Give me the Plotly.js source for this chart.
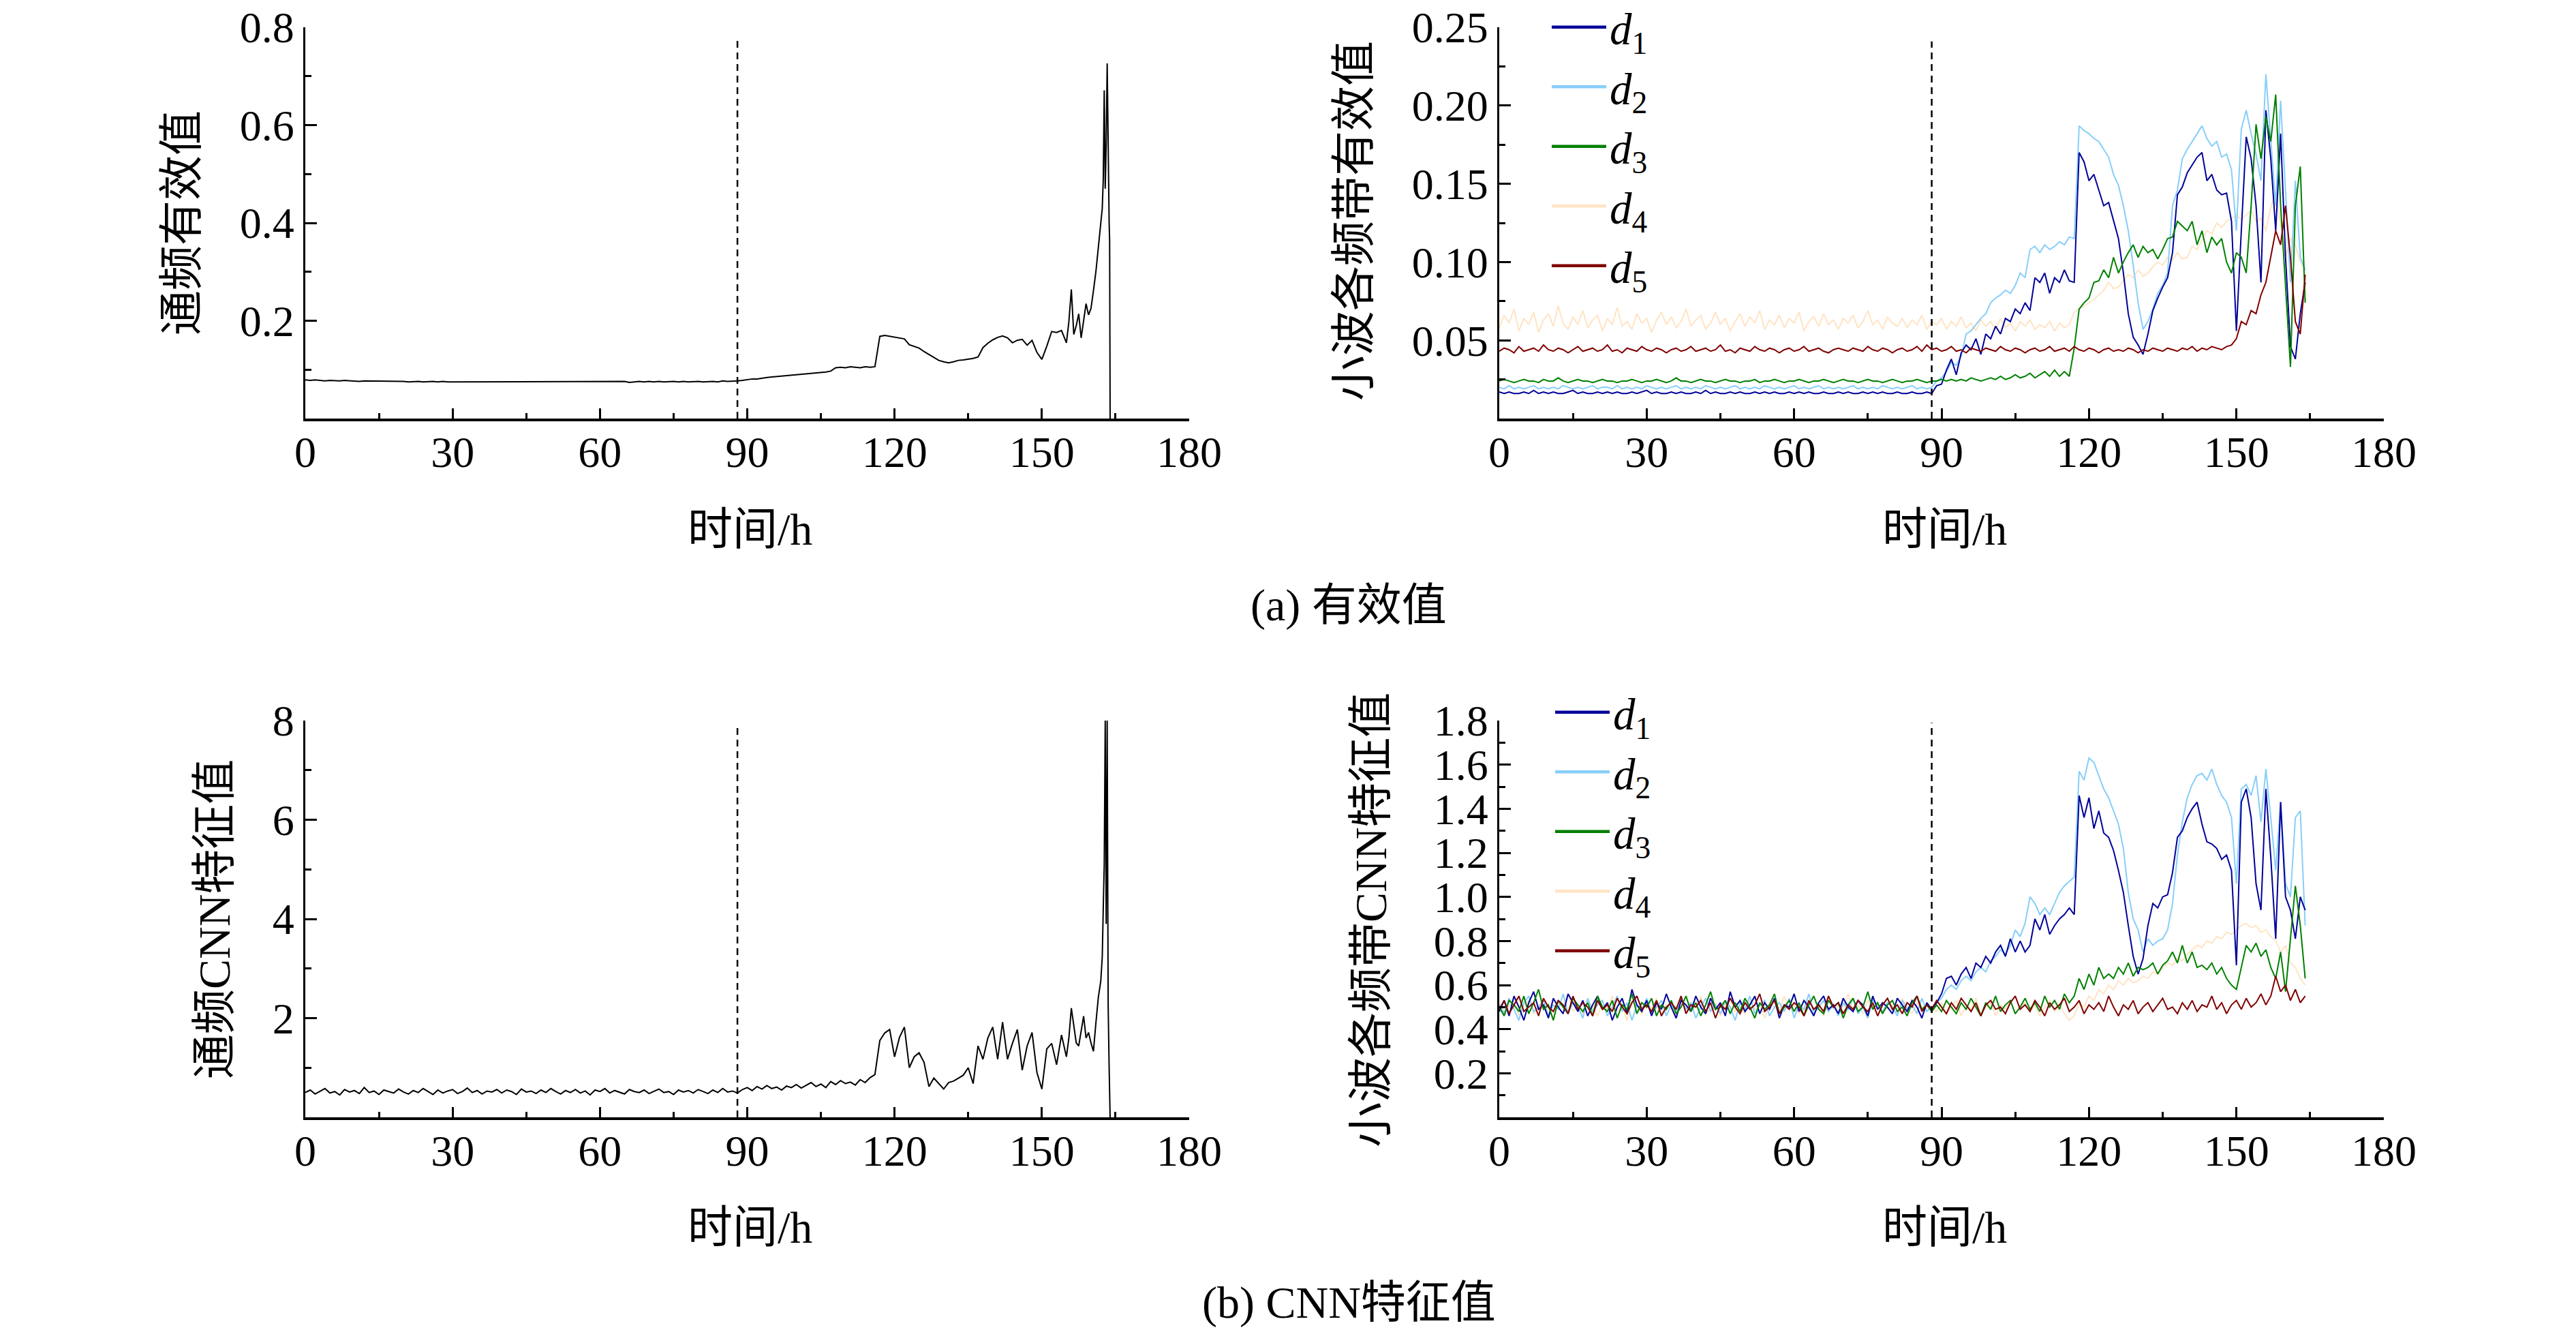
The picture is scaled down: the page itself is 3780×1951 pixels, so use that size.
<!DOCTYPE html>
<html>
<head>
<meta charset="utf-8">
<script src="https://cdn.plot.ly/plotly-3.0.1.min.js"></script>
<style>
html,body{margin:0;padding:0;background:#ffffff;}
#chart{width:3780px;height:1951px;}
</style>
</head>
<body>
<div id="chart"></div>
<script>
// ---------------- DATA ----------------
const HOURS = [
0,1,2,3,4,5,6,7,8,9,10,11,12,13,14,15,16,17,18,19,
20,21,22,23,24,25,26,27,28,29,30,31,32,33,34,35,36,37,38,39,
40,41,42,43,44,45,46,47,48,49,50,51,52,53,54,55,56,57,58,59,
60,61,62,63,64,65,66,67,68,69,70,71,72,73,74,75,76,77,78,79,
80,81,82,83,84,85,86,87,88,89,90,91,92,93,94,95,96,97,98,99,
100,101,102,103,104,105,106,107,108,109,110,111,112,113,114,115,116,117,118,119,
120,121,122,123,124,125,126,127,128,129,130,131,132,133,134,135,136,137,138,139,
140,141,142,143,144,145,146,147,148,149,150,151,152,153,154,155,156,157,158,159,
160,161,162,163,164];

// extra fine time points at the end of the broadband (通频) records
const T_END = [155.5,156,156.5,157,157.5,158,158.5,159,159.5,160,160.5,161,161.5,162,162.3,162.5,162.7,162.9,163.1,163.3,163.5,163.7,163.8,163.9];

// 通频有效值 (hours 0..155, then T_END)
const RMS_ALL = [
0.079,0.078,0.079,0.078,0.077,0.078,0.077,0.077,0.078,0.077,
0.077,0.076,0.077,0.077,0.076,0.077,0.076,0.076,0.077,0.076,
0.076,0.075,0.076,0.076,0.075,0.076,0.076,0.075,0.076,0.075,
0.075,0.076,0.075,0.075,0.076,0.075,0.075,0.076,0.075,0.076,
0.075,0.075,0.076,0.075,0.076,0.076,0.075,0.076,0.075,0.075,
0.076,0.075,0.076,0.075,0.075,0.076,0.075,0.076,0.076,0.075,
0.076,0.075,0.075,0.076,0.075,0.076,0.074,0.075,0.076,0.075,
0.076,0.075,0.076,0.075,0.076,0.076,0.075,0.076,0.075,0.076,
0.076,0.075,0.076,0.076,0.075,0.077,0.076,0.076,0.077,
0.078,0.080,0.081,0.081,0.083,0.084,0.085,0.086,0.087,0.088,
0.088,0.090,0.090,0.092,0.092,0.093,0.094,0.095,0.097,0.104,
0.105,0.104,0.106,0.105,0.104,0.106,0.105,0.106,0.168,0.170,
0.168,0.166,0.165,0.163,0.151,0.147,0.144,0.137,0.131,0.124,
0.119,0.116,0.114,0.116,0.119,0.120,0.121,0.123,0.126,0.145,
0.154,0.161,0.166,0.169,0.165,0.155,0.160,0.162,0.150,0.160,
0.135,0.121,0.148,0.178,0.176,0.180,0.155,
0.198,0.264,0.172,0.190,0.214,0.165,0.200,0.235,0.212,0.225,0.261,0.300,
0.350,0.400,0.430,0.488,0.671,0.470,0.560,0.726,0.515,0.400,0.363,0.000];

// 通频CNN特征值 (hours 0..155, then T_END)
const CNN_ALL = [
0.50,0.55,0.47,0.53,0.58,0.49,0.52,0.45,0.56,0.51,
0.54,0.48,0.60,0.50,0.53,0.46,0.55,0.52,0.49,0.57,
0.51,0.47,0.54,0.50,0.58,0.52,0.46,0.55,0.49,0.53,
0.56,0.48,0.52,0.59,0.50,0.54,0.47,0.53,0.51,0.56,
0.49,0.55,0.52,0.46,0.57,0.51,0.53,0.48,0.55,0.50,
0.58,0.52,0.47,0.54,0.50,0.56,0.49,0.53,0.45,0.55,
0.52,0.58,0.49,0.54,0.51,0.47,0.56,0.52,0.50,0.55,
0.48,0.53,0.57,0.50,0.52,0.46,0.55,0.51,0.54,0.49,
0.56,0.52,0.48,0.55,0.50,0.58,0.51,0.53,0.49,
0.56,0.60,0.54,0.62,0.57,0.64,0.58,0.61,0.55,0.63,
0.60,0.66,0.59,0.64,0.70,0.62,0.67,0.60,0.72,0.66,
0.74,0.68,0.71,0.65,0.76,0.70,0.80,0.86,
1.55,1.70,1.77,1.22,1.61,1.82,1.00,1.22,1.30,1.11,
0.62,0.79,0.68,0.57,0.70,0.73,0.79,0.85,1.00,0.68,
1.44,1.17,1.60,1.82,1.17,1.92,1.17,1.49,1.77,0.95,
1.44,1.71,0.90,0.57,1.38,1.49,1.06,1.66,1.22,
1.60,2.20,1.82,1.50,1.44,1.75,2.04,1.60,1.71,1.50,1.33,1.90,
2.42,2.75,3.24,4.20,5.09,8.00,3.90,8.00,2.26,1.00,0.30,0.00];

// 小波各频带有效值 d1..d5 (hours 0..164)
const RMS_D1 = [
0.017,0.016,0.017,0.016,0.016,0.017,0.016,0.018,0.016,0.017,
0.016,0.017,0.016,0.016,0.017,0.018,0.016,0.017,0.016,0.016,
0.017,0.016,0.017,0.016,0.017,0.016,0.016,0.017,0.016,0.017,
0.018,0.016,0.017,0.016,0.016,0.017,0.016,0.017,0.016,0.016,
0.017,0.016,0.018,0.016,0.017,0.016,0.016,0.017,0.016,0.017,
0.016,0.016,0.017,0.016,0.017,0.016,0.017,0.016,0.016,0.017,
0.016,0.017,0.016,0.017,0.016,0.016,0.017,0.016,0.016,0.017,
0.016,0.017,0.016,0.016,0.017,0.016,0.017,0.016,0.017,0.016,
0.016,0.017,0.016,0.016,0.017,0.016,0.016,0.017,0.016,
0.021,0.022,0.031,0.038,0.028,0.042,0.047,0.044,0.051,0.041,
0.054,0.051,0.059,0.054,0.064,0.062,0.070,0.067,0.074,0.069,
0.090,0.087,0.093,0.080,0.090,0.087,0.095,0.088,0.087,0.170,
0.164,0.152,0.156,0.146,0.136,0.138,0.126,0.115,0.093,0.067,
0.052,0.047,0.041,0.054,0.069,0.077,0.084,0.090,0.106,0.143,
0.148,0.157,0.162,0.167,0.170,0.152,0.156,0.146,0.143,0.144,
0.126,0.056,0.120,0.180,0.166,0.136,0.087,0.197,0.166,0.120,
0.182,0.103,0.046,0.038,0.067,0.087];
const RMS_D2 = [
0.020,0.019,0.021,0.019,0.020,0.019,0.020,0.021,0.019,0.020,
0.019,0.020,0.019,0.021,0.020,0.019,0.020,0.019,0.020,0.021,
0.019,0.020,0.020,0.019,0.021,0.019,0.020,0.019,0.020,0.019,
0.021,0.020,0.019,0.020,0.019,0.020,0.021,0.019,0.020,0.019,
0.020,0.019,0.021,0.020,0.019,0.020,0.019,0.020,0.021,0.019,
0.020,0.019,0.020,0.019,0.021,0.020,0.019,0.020,0.019,0.020,
0.021,0.019,0.020,0.019,0.020,0.021,0.019,0.020,0.019,0.020,
0.019,0.020,0.021,0.019,0.020,0.019,0.020,0.019,0.021,0.020,
0.019,0.020,0.019,0.020,0.021,0.019,0.020,0.019,0.020,
0.024,0.026,0.030,0.036,0.034,0.040,0.054,0.056,0.060,0.064,
0.067,0.074,0.077,0.079,0.082,0.080,0.085,0.093,0.090,0.108,
0.110,0.106,0.111,0.108,0.110,0.113,0.111,0.116,0.115,0.187,
0.184,0.182,0.179,0.177,0.172,0.167,0.156,0.149,0.136,0.120,
0.098,0.074,0.057,0.062,0.070,0.080,0.085,0.093,0.136,0.146,
0.166,0.172,0.177,0.182,0.187,0.179,0.174,0.177,0.167,0.169,
0.159,0.120,0.185,0.197,0.182,0.169,0.152,0.220,0.177,0.136,
0.203,0.144,0.087,0.152,0.103,0.095];
const RMS_D3 = [
0.024,0.025,0.024,0.023,0.024,0.025,0.024,0.024,0.023,0.025,
0.024,0.024,0.026,0.024,0.023,0.024,0.025,0.024,0.024,0.023,
0.024,0.025,0.024,0.024,0.023,0.024,0.024,0.025,0.024,0.023,
0.024,0.024,0.025,0.024,0.023,0.024,0.026,0.024,0.024,0.023,
0.024,0.025,0.024,0.024,0.023,0.024,0.025,0.024,0.024,0.023,
0.024,0.024,0.025,0.023,0.024,0.024,0.025,0.024,0.023,0.024,
0.024,0.025,0.024,0.023,0.024,0.024,0.025,0.024,0.023,0.024,
0.025,0.024,0.024,0.023,0.024,0.025,0.024,0.024,0.023,0.024,
0.025,0.024,0.023,0.024,0.024,0.025,0.024,0.023,0.024,
0.024,0.025,0.024,0.025,0.024,0.025,0.024,0.026,0.025,0.024,
0.025,0.026,0.025,0.027,0.025,0.026,0.028,0.026,0.027,0.029,
0.026,0.028,0.030,0.027,0.031,0.027,0.030,0.027,0.045,0.070,
0.074,0.077,0.087,0.088,0.095,0.090,0.103,0.093,0.100,0.106,
0.111,0.103,0.110,0.106,0.108,0.102,0.108,0.115,0.116,0.126,
0.123,0.120,0.126,0.111,0.120,0.106,0.116,0.111,0.115,0.100,
0.093,0.106,0.103,0.093,0.136,0.188,0.166,0.193,0.177,0.207,
0.136,0.087,0.033,0.136,0.161,0.074];
const RMS_D4 = [
0.058,0.066,0.061,0.070,0.056,0.064,0.060,0.068,0.055,0.063,
0.067,0.059,0.072,0.061,0.057,0.065,0.060,0.069,0.058,0.063,
0.066,0.056,0.064,0.060,0.071,0.059,0.062,0.057,0.067,0.061,
0.064,0.055,0.063,0.068,0.060,0.065,0.058,0.062,0.070,0.059,
0.063,0.066,0.057,0.061,0.068,0.060,0.064,0.056,0.062,0.067,
0.059,0.065,0.061,0.069,0.057,0.063,0.060,0.066,0.058,0.064,
0.061,0.068,0.056,0.062,0.065,0.059,0.067,0.060,0.063,0.057,
0.064,0.061,0.066,0.058,0.062,0.069,0.060,0.063,0.057,0.065,
0.061,0.059,0.064,0.058,0.063,0.060,0.066,0.057,0.062,
0.060,0.064,0.057,0.062,0.059,0.065,0.058,0.061,0.056,0.063,
0.059,0.062,0.057,0.064,0.058,0.061,0.056,0.062,0.059,0.063,
0.057,0.060,0.058,0.062,0.056,0.061,0.058,0.060,0.068,0.070,
0.072,0.074,0.076,0.079,0.082,0.087,0.083,0.084,0.088,0.092,
0.090,0.095,0.091,0.093,0.097,0.100,0.098,0.103,0.101,0.106,
0.102,0.103,0.110,0.108,0.114,0.120,0.118,0.125,0.122,0.126,
0.128,0.130,0.127,0.130,0.133,0.126,0.128,0.120,0.135,0.144,
0.125,0.103,0.115,0.111,0.100,0.095];
const RMS_D5 = [
0.043,0.045,0.044,0.042,0.046,0.043,0.044,0.045,0.043,0.047,
0.044,0.043,0.045,0.044,0.042,0.044,0.046,0.043,0.044,0.045,
0.043,0.044,0.047,0.043,0.044,0.042,0.045,0.044,0.043,0.046,
0.044,0.043,0.045,0.044,0.042,0.044,0.045,0.043,0.044,0.046,
0.043,0.044,0.045,0.043,0.044,0.047,0.043,0.044,0.042,0.045,
0.044,0.043,0.046,0.044,0.043,0.045,0.044,0.042,0.044,0.045,
0.043,0.044,0.046,0.043,0.044,0.045,0.043,0.042,0.044,0.045,
0.044,0.043,0.045,0.044,0.043,0.046,0.044,0.043,0.045,0.044,
0.042,0.044,0.045,0.043,0.044,0.046,0.043,0.047,0.044,
0.045,0.043,0.044,0.046,0.043,0.044,0.042,0.045,0.044,0.043,
0.045,0.044,0.043,0.046,0.044,0.043,0.045,0.044,0.042,0.044,
0.045,0.043,0.044,0.046,0.043,0.044,0.045,0.043,0.046,0.044,
0.043,0.045,0.044,0.042,0.044,0.045,0.043,0.044,0.043,0.045,
0.044,0.042,0.044,0.043,0.045,0.044,0.043,0.045,0.044,0.043,
0.045,0.044,0.046,0.043,0.045,0.044,0.046,0.045,0.044,0.046,
0.047,0.051,0.062,0.060,0.069,0.067,0.079,0.087,0.103,0.120,
0.111,0.136,0.103,0.062,0.054,0.092];

// 小波各频带CNN特征值 d1..d5 (hours 0..164)
const CNN_D1 = [
0.48,0.53,0.46,0.55,0.50,0.44,0.52,0.57,0.49,0.51,
0.45,0.54,0.50,0.47,0.56,0.52,0.48,0.53,0.46,0.51,
0.55,0.49,0.52,0.44,0.50,0.54,0.47,0.58,0.51,0.48,
0.53,0.46,0.52,0.49,0.56,0.50,0.45,0.53,0.51,0.48,
0.55,0.50,0.47,0.54,0.49,0.52,0.46,0.57,0.50,0.53,
0.48,0.51,0.55,0.47,0.52,0.49,0.54,0.45,0.51,0.50,
0.56,0.48,0.53,0.50,0.46,0.52,0.55,0.49,0.51,0.47,
0.54,0.50,0.48,0.53,0.51,0.46,0.55,0.49,0.52,0.50,
0.47,0.54,0.51,0.48,0.53,0.50,0.45,0.52,0.49,
0.52,0.56,0.63,0.64,0.60,0.65,0.68,0.63,0.70,0.68,
0.73,0.70,0.75,0.78,0.73,0.81,0.75,0.80,0.75,0.78,
0.90,0.85,0.92,0.83,0.87,0.90,0.92,0.95,0.92,1.46,
1.36,1.45,1.31,1.39,1.29,1.27,1.21,1.12,1.02,0.87,
0.73,0.65,0.72,0.87,0.97,0.95,1.00,1.01,1.11,1.27,
1.30,1.36,1.40,1.43,1.33,1.25,1.24,1.22,1.17,1.19,
1.12,0.69,1.43,1.49,1.36,1.06,0.94,1.49,1.18,0.81,
1.43,1.00,0.94,0.81,1.00,0.94];
const CNN_D2 = [
0.51,0.47,0.54,0.49,0.44,0.52,0.55,0.48,0.50,0.53,
0.46,0.51,0.49,0.56,0.47,0.52,0.50,0.45,0.54,0.48,
0.51,0.53,0.46,0.50,0.55,0.48,0.52,0.44,0.51,0.49,
0.54,0.47,0.50,0.53,0.46,0.51,0.48,0.55,0.49,0.52,
0.45,0.50,0.54,0.48,0.51,0.47,0.53,0.50,0.44,0.52,
0.49,0.55,0.47,0.51,0.53,0.46,0.50,0.52,0.48,0.54,
0.45,0.51,0.49,0.56,0.47,0.50,0.53,0.48,0.51,0.46,
0.52,0.49,0.54,0.47,0.50,0.45,0.53,0.51,0.48,0.52,
0.50,0.46,0.53,0.49,0.51,0.47,0.54,0.48,0.50,
0.52,0.54,0.58,0.60,0.58,0.62,0.64,0.62,0.66,0.68,
0.66,0.71,0.73,0.76,0.74,0.78,0.85,0.82,0.88,1.00,
0.97,0.92,0.95,0.92,0.97,1.02,1.05,1.07,1.09,1.57,
1.53,1.63,1.61,1.55,1.49,1.45,1.39,1.33,1.22,1.02,
0.90,0.85,0.75,0.81,0.78,0.80,0.81,0.85,0.97,1.19,
1.34,1.45,1.51,1.55,1.56,1.53,1.58,1.51,1.46,1.43,
1.36,1.06,1.49,1.51,1.46,1.55,1.34,1.58,1.36,1.12,
1.43,1.06,1.00,1.36,1.39,0.87];
const CNN_D3 = [
0.50,0.46,0.53,0.51,0.48,0.55,0.47,0.52,0.58,0.49,
0.51,0.44,0.53,0.50,0.47,0.54,0.51,0.48,0.52,0.46,
0.55,0.50,0.48,0.53,0.45,0.51,0.49,0.56,0.47,0.52,
0.50,0.54,0.46,0.51,0.49,0.53,0.47,0.50,0.55,0.48,
0.52,0.46,0.51,0.57,0.49,0.50,0.53,0.47,0.52,0.48,
0.54,0.50,0.45,0.52,0.49,0.51,0.56,0.47,0.50,0.53,
0.48,0.52,0.46,0.51,0.55,0.49,0.47,0.53,0.50,0.52,
0.45,0.51,0.54,0.48,0.50,0.57,0.49,0.52,0.47,0.51,
0.53,0.48,0.50,0.46,0.52,0.55,0.49,0.51,0.48,
0.51,0.48,0.53,0.50,0.47,0.52,0.49,0.54,0.50,0.46,
0.52,0.49,0.55,0.48,0.51,0.53,0.47,0.50,0.54,0.49,
0.52,0.48,0.55,0.50,0.53,0.49,0.56,0.52,0.55,0.63,
0.58,0.65,0.60,0.68,0.63,0.65,0.63,0.68,0.65,0.70,
0.64,0.68,0.67,0.68,0.70,0.65,0.69,0.71,0.75,0.70,
0.78,0.70,0.75,0.68,0.69,0.67,0.70,0.65,0.68,0.63,
0.60,0.58,0.68,0.78,0.75,0.79,0.73,0.76,0.68,0.63,
0.75,0.57,0.81,1.05,0.87,0.63];
const CNN_D4 = [
0.52,0.48,0.50,0.55,0.46,0.51,0.53,0.47,0.50,0.54,
0.49,0.45,0.52,0.50,0.56,0.48,0.51,0.47,0.53,0.50,
0.46,0.52,0.49,0.55,0.48,0.51,0.44,0.53,0.50,0.47,
0.52,0.49,0.54,0.47,0.51,0.50,0.46,0.53,0.48,0.52,
0.50,0.55,0.47,0.49,0.52,0.46,0.51,0.54,0.48,0.50,
0.47,0.53,0.49,0.51,0.45,0.52,0.50,0.48,0.55,0.49,
0.51,0.47,0.53,0.50,0.48,0.52,0.46,0.54,0.49,0.51,
0.50,0.56,0.48,0.51,0.47,0.53,0.50,0.46,0.52,0.49,
0.51,0.48,0.54,0.50,0.47,0.52,0.49,0.51,0.50,
0.48,0.52,0.47,0.50,0.53,0.46,0.51,0.49,0.54,0.47,
0.50,0.52,0.46,0.51,0.49,0.53,0.47,0.50,0.52,0.48,
0.51,0.46,0.50,0.53,0.48,0.51,0.47,0.44,0.46,0.52,
0.50,0.55,0.53,0.58,0.56,0.60,0.58,0.62,0.60,0.63,
0.61,0.62,0.64,0.63,0.66,0.65,0.68,0.70,0.69,0.72,
0.71,0.74,0.76,0.78,0.77,0.80,0.79,0.82,0.81,0.84,
0.83,0.85,0.87,0.88,0.86,0.87,0.84,0.85,0.82,0.80,
0.75,0.78,0.70,0.68,0.63,0.60];
const CNN_D5 = [
0.49,0.53,0.47,0.51,0.55,0.48,0.50,0.52,0.46,0.54,
0.50,0.48,0.53,0.51,0.47,0.55,0.49,0.52,0.50,0.46,
0.53,0.49,0.51,0.48,0.54,0.50,0.47,0.52,0.55,0.49,
0.51,0.48,0.53,0.46,0.50,0.52,0.49,0.55,0.47,0.51,
0.50,0.53,0.48,0.52,0.45,0.51,0.49,0.54,0.50,0.47,
0.52,0.49,0.51,0.56,0.48,0.50,0.53,0.47,0.51,0.49,
0.52,0.50,0.46,0.53,0.49,0.51,0.48,0.55,0.50,0.52,
0.47,0.51,0.49,0.53,0.50,0.48,0.52,0.46,0.51,0.54,
0.49,0.51,0.47,0.52,0.50,0.55,0.48,0.51,0.49,
0.53,0.50,0.47,0.52,0.49,0.54,0.51,0.48,0.52,0.46,
0.51,0.53,0.49,0.50,0.47,0.52,0.55,0.49,0.51,0.48,
0.53,0.50,0.46,0.52,0.49,0.51,0.54,0.48,0.50,0.53,
0.47,0.51,0.49,0.52,0.48,0.55,0.50,0.46,0.51,0.49,
0.53,0.47,0.50,0.52,0.48,0.51,0.54,0.49,0.50,0.47,
0.52,0.49,0.53,0.48,0.51,0.50,0.55,0.49,0.52,0.47,
0.51,0.53,0.49,0.54,0.50,0.52,0.56,0.51,0.55,0.64,
0.57,0.60,0.53,0.58,0.52,0.55];

// fault onset marker (dashed line) and its top in each panel
const ONSET_H = 88;
const ONSET_TOP = [0.772, 0.241, 7.9, 1.79];

// series names / colours
const BAND_NAMES = ['<i>d</i><sub>1</sub>','<i>d</i><sub>2</sub>','<i>d</i><sub>3</sub>','<i>d</i><sub>4</sub>','<i>d</i><sub>5</sub>'];
const BAND_COLORS = ['#000099','#87CEFA','#008000','#FFE4C4','#800000'];

// ticks
const X_TICKS = [0,30,60,90,120,150,180];
const X_MINOR = [15,45,75,105,135,165];
const Y1_TICKS = [0.2,0.4,0.6,0.8], Y1_TEXT = ['0.2','0.4','0.6','0.8'], Y1_MINOR = [0.1,0.3,0.5,0.7];
const Y2_TICKS = [0.05,0.10,0.15,0.20,0.25], Y2_TEXT = ['0.05','0.10','0.15','0.20','0.25'], Y2_MINOR = [0.025,0.075,0.125,0.175,0.225];
const Y3_TICKS = [2,4,6,8], Y3_TEXT = ['2','4','6','8'], Y3_MINOR = [1,3,5,7];
const Y4_TICKS = [0.2,0.4,0.6,0.8,1.0,1.2,1.4,1.6,1.8], Y4_TEXT = ['0.2','0.4','0.6','0.8','1.0','1.2','1.4','1.6','1.8'], Y4_MINOR = [0.1,0.3,0.5,0.7,0.9,1.1,1.3,1.5,1.7];

// ---------------- checks ----------------
(function(){
  const n = HOURS.length, m = 156 + T_END.length;
  const chk = {RMS_D1,RMS_D2,RMS_D3,RMS_D4,RMS_D5,CNN_D1,CNN_D2,CNN_D3,CNN_D4,CNN_D5};
  const bad = [];
  for (const k in chk) if (chk[k].length !== n) bad.push(k + ':' + chk[k].length);
  if (RMS_ALL.length !== m) bad.push('RMS_ALL:' + RMS_ALL.length);
  if (CNN_ALL.length !== m) bad.push('CNN_ALL:' + CNN_ALL.length);
  if (bad.length) throw new Error('length mismatch ' + bad.join(', '));
})();

// ---------------- FIGURE ----------------
const W = 3780, H = 1951;
const px = v => v / W;
const py = v => 1 - v / H;
const SERIF = 'Liberation Serif, Times New Roman, serif';
const MIXED = 'Liberation Serif, Noto Sans CJK SC, serif';

const T_CH = HOURS.slice(0, 156).concat(T_END);

const traces = [];
traces.push({x: T_CH, y: RMS_ALL, xaxis: 'x', yaxis: 'y', type: 'scatter', mode: 'lines',
  line: {color: '#000', width: 2}, showlegend: false, hoverinfo: 'skip'});
traces.push({x: T_CH, y: CNN_ALL, xaxis: 'x3', yaxis: 'y3', type: 'scatter', mode: 'lines',
  line: {color: '#000', width: 2}, showlegend: false, hoverinfo: 'skip'});

const RMS_BANDS = [RMS_D1, RMS_D2, RMS_D3, RMS_D4, RMS_D5];
const CNN_BANDS = [CNN_D1, CNN_D2, CNN_D3, CNN_D4, CNN_D5];
const DRAW_ORDER = [3, 1, 0, 2, 4];
DRAW_ORDER.forEach(i => {
  traces.push({x: HOURS, y: RMS_BANDS[i], xaxis: 'x2', yaxis: 'y2', type: 'scatter', mode: 'lines',
    line: {color: BAND_COLORS[i], width: 2}, showlegend: false, hoverinfo: 'skip'});
});
DRAW_ORDER.forEach(i => {
  traces.push({x: HOURS, y: CNN_BANDS[i], xaxis: 'x4', yaxis: 'y4', type: 'scatter', mode: 'lines',
    line: {color: BAND_COLORS[i], width: 2}, showlegend: false, hoverinfo: 'skip'});
});
// legend entries (thicker key lines, as in the original)
[0,1,2,3,4].forEach(i => {
  traces.push({x: [null], y: [null], xaxis: 'x2', yaxis: 'y2', type: 'scatter', mode: 'lines',
    name: BAND_NAMES[i], line: {color: BAND_COLORS[i], width: 4.5}, legend: 'legend', showlegend: true});
});
[0,1,2,3,4].forEach(i => {
  traces.push({x: [null], y: [null], xaxis: 'x4', yaxis: 'y4', type: 'scatter', mode: 'lines',
    name: BAND_NAMES[i], line: {color: BAND_COLORS[i], width: 4.5}, legend: 'legend2', showlegend: true});
});

const tickFont = {family: SERIF, size: 64, color: '#000'};
function xAx(domain, anchor) {
  return {domain: domain, anchor: anchor, range: [0, 180], tickmode: 'array', tickvals: X_TICKS,
    ticktext: X_TICKS.map(String), ticks: 'inside', ticklen: 15, tickwidth: 3, tickcolor: '#000',
    showline: true, linewidth: 3.5, linecolor: '#000', showgrid: false, zeroline: false,
    tickfont: tickFont, ticklabelstandoff: -9, ticklabeloverflow: 'allow', fixedrange: true,
    minor: {tickmode: 'array', tickvals: X_MINOR, ticks: 'inside', ticklen: 8, tickwidth: 3, tickcolor: '#000', showgrid: false}};
}
function yAx(domain, anchor, range, tv, tt, mv) {
  return {domain: domain, anchor: anchor, range: range, tickmode: 'array', tickvals: tv, ticktext: tt,
    ticks: 'inside', ticklen: 17, tickwidth: 3, tickcolor: '#000',
    showline: true, linewidth: 3.5, linecolor: '#000', showgrid: false, zeroline: false,
    tickfont: tickFont, ticklabeloverflow: 'allow', fixedrange: true,
    minor: {tickmode: 'array', tickvals: mv, ticks: 'inside', ticklen: 9, tickwidth: 3, tickcolor: '#000', showgrid: false}};
}

const XL = [px(448), px(1745)], XR = [px(2200), px(3498)];
const YT = [py(614), py(40)], YB = [py(1639), py(1057)];

const titleFont = {family: MIXED, size: 66, color: '#000'};
function ann(text, x, y, angle) {
  return {text: text, xref: 'paper', yref: 'paper', x: px(x), y: py(y), xanchor: 'center', yanchor: 'middle',
    showarrow: false, textangle: angle || 0, font: titleFont};
}

const legendBase = {xanchor: 'left', yanchor: 'top', bgcolor: 'rgba(0,0,0,0)', borderwidth: 0,
  font: {family: SERIF, size: 65, color: '#000'}, itemwidth: 80, traceorder: 'normal', tracegroupgap: 0,
  itemclick: false, itemdoubleclick: false};

const dashLine = (xr, yr, top) => ({type: 'line', xref: xr, yref: yr, x0: ONSET_H, x1: ONSET_H, y0: 0, y1: top,
  line: {color: '#000', width: 2.5, dash: '10px,7px'}});

const layout = {
  width: W, height: H, margin: {l: 0, r: 0, t: 0, b: 0, autoexpand: false},
  paper_bgcolor: '#fff', plot_bgcolor: 'rgba(0,0,0,0)',
  showlegend: true,
  xaxis: xAx(XL, 'y'), yaxis: yAx(YT, 'x', [0, 0.8], Y1_TICKS, Y1_TEXT, Y1_MINOR),
  xaxis2: xAx(XR, 'y2'), yaxis2: yAx(YT, 'x2', [0, 0.25], Y2_TICKS, Y2_TEXT, Y2_MINOR),
  xaxis3: xAx(XL, 'y3'), yaxis3: yAx(YB, 'x3', [0, 8], Y3_TICKS, Y3_TEXT, Y3_MINOR),
  xaxis4: xAx(XR, 'y4'), yaxis4: yAx(YB, 'x4', [0, 1.8], Y4_TICKS, Y4_TEXT, Y4_MINOR),
  legend: Object.assign({}, legendBase, {x: px(2272), y: py(-9)}),
  legend2: Object.assign({}, legendBase, {x: px(2277), y: py(996)}),
  shapes: [dashLine('x', 'y', ONSET_TOP[0]), dashLine('x2', 'y2', ONSET_TOP[1]),
           dashLine('x3', 'y3', ONSET_TOP[2]), dashLine('x4', 'y4', ONSET_TOP[3])],
  annotations: [
    ann('通频有效值', 267, 327, -90),
    ann('小波各频带有效值', 1987, 324, -90),
    ann('通频CNN特征值', 314, 1349, -90),
    ann('小波各频带CNN特征值', 2011, 1350, -90),
    ann('时间/h', 1100, 776), ann('时间/h', 2853, 776),
    ann('时间/h', 1100, 1800), ann('时间/h', 2853, 1800),
    ann('(a) 有效值', 1979, 888),
    ann('(b) CNN特征值', 1979, 1911)
  ]
};

Plotly.newPlot('chart', traces, layout, {displayModeBar: false, staticPlot: true});
</script>
</body>
</html>
